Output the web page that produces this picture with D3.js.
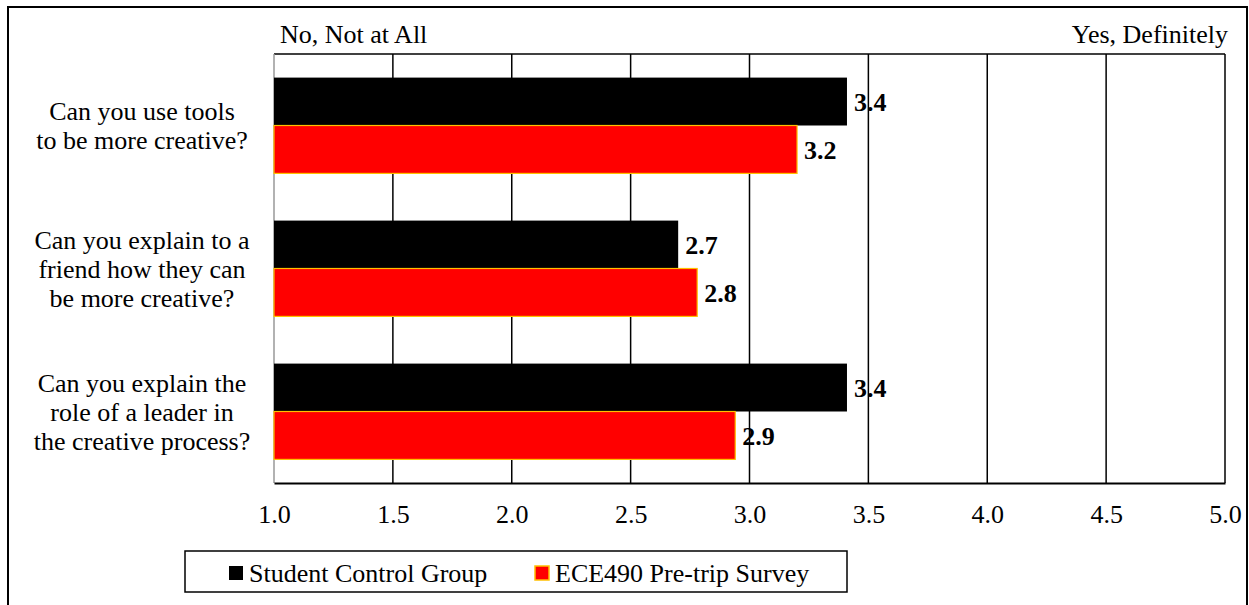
<!DOCTYPE html>
<html>
<head>
<meta charset="utf-8">
<script src="https://cdn.jsdelivr.net/npm/d3@7"></script>
<style>
  html, body { margin: 0; padding: 0; background: #fff; }
  svg { display: block; }
  text { font-family: "Liberation Serif", "Times New Roman", serif; fill: #000; }
</style>
</head>
<body>
<svg id="chart" width="1249" height="605"></svg>
<script>
// Survey questions (top to bottom)
const questions = [
  ["Can you use tools", "to be more creative?"],
  ["Can you explain to a", "friend how they can", "be more creative?"],
  ["Can you explain the", "role of a leader in", "the creative process?"]
];
const questionKeys = ["tools", "explain", "leader"];

// Mean responses per group
const controlGroup = [3.41, 2.70, 3.41];
const preTripSurvey = [3.20, 2.78, 2.94];

const seriesNames = ["Student Control Group", "ECE490 Pre-trip Survey"];
const xTicks = [1.0, 1.5, 2.0, 2.5, 3.0, 3.5, 4.0, 4.5, 5.0];
const scaleEnds = ["No, Not at All", "Yes, Definitely"];

const FS = 26;
const svg = d3.select("#chart");
const plot = { left: 274, right: 1225, top: 54, bottom: 483 };

// outer frame
svg.append("rect")
  .attr("x", 8).attr("y", 7).attr("width", 1239).attr("height", 610)
  .attr("fill", "none").attr("stroke", "#000").attr("stroke-width", 2);

const x = d3.scaleLinear().domain([1, 5]).range([plot.left, plot.right]);
const y = d3.scaleBand().domain(questionKeys).range([plot.top, plot.bottom]).paddingInner(0.33).paddingOuter(0.165);
const ySub = d3.scaleBand().domain([0, 1]).range([0, y.bandwidth()]);

// vertical gridlines
svg.append("g").selectAll("line")
  .data(xTicks.slice(1))
  .join("line")
  .attr("x1", d => x(d)).attr("x2", d => x(d))
  .attr("y1", plot.top).attr("y2", plot.bottom)
  .attr("stroke", "#000").attr("stroke-width", 1.5);

// top border of the plot area
svg.append("line")
  .attr("x1", plot.left).attr("x2", plot.right)
  .attr("y1", plot.top).attr("y2", plot.top)
  .attr("stroke", "#000").attr("stroke-width", 1.5);

// left axis line
svg.append("line")
  .attr("x1", plot.left).attr("x2", plot.left)
  .attr("y1", plot.top).attr("y2", plot.bottom)
  .attr("stroke", "#999").attr("stroke-width", 1.5);

// bars
const rows = questionKeys.map((k, i) => ({ key: k, vals: [controlGroup[i], preTripSurvey[i]] }));
const fills = ["#000000", "#FF0000"];
const strokes = ["none", "#FFC000"];

const groups = svg.append("g").selectAll("g")
  .data(rows).join("g")
  .attr("transform", d => `translate(0,${y(d.key)})`);

groups.selectAll("rect")
  .data(d => d.vals.map((v, j) => ({ v, j })))
  .join("rect")
  .attr("x", x(1))
  .attr("y", d => ySub(d.j))
  .attr("width", d => x(d.v) - x(1))
  .attr("height", ySub.bandwidth())
  .attr("fill", d => fills[d.j])
  .attr("stroke", d => strokes[d.j])
  .attr("stroke-width", 1.2);

groups.selectAll("text.val")
  .data(d => d.vals.map((v, j) => ({ v, j })))
  .join("text")
  .attr("class", "val")
  .attr("x", d => x(d.v) + 7)
  .attr("y", d => ySub(d.j) + ySub.bandwidth() / 2)
  .attr("dy", "0.35em")
  .attr("font-size", FS)
  .attr("font-weight", "bold")
  .text(d => d.v.toFixed(1));

// bottom axis
const xAxis = d3.axisBottom(x).tickValues(xTicks).tickSize(0).tickPadding(22).tickFormat(d3.format(".1f"));
const gx = svg.append("g").attr("transform", `translate(0,${plot.bottom})`).call(xAxis);
gx.select(".domain").attr("stroke", "#000").attr("stroke-width", 2);
gx.selectAll("text").attr("font-size", FS).attr("font-family", null).attr("fill", "#000");

// category labels
const catG = svg.append("g");
rows.forEach((r, i) => {
  const lines = questions[i];
  const cy = y(r.key) + y.bandwidth() / 2;
  const lh = 29;
  const t = catG.append("text")
    .attr("text-anchor", "middle")
    .attr("font-size", FS);
  lines.forEach((ln, k) => {
    t.append("tspan")
      .attr("x", 142)
      .attr("y", cy + (k - (lines.length - 1) / 2) * lh)
      .attr("dy", "0.35em")
      .text(ln);
  });
});

// scale end labels
svg.append("text").attr("x", 280).attr("y", 43).attr("font-size", FS).text(scaleEnds[0]);
svg.append("text").attr("x", 1228).attr("y", 43).attr("font-size", FS).attr("text-anchor", "end").text(scaleEnds[1]);

// legend
const lg = svg.append("g");
lg.append("rect").attr("x", 185).attr("y", 551).attr("width", 662).attr("height", 41)
  .attr("fill", "#fff").attr("stroke", "#000").attr("stroke-width", 1.5);
const legendX = [229, 535];
seriesNames.forEach((name, j) => {
  lg.append("rect").attr("x", legendX[j]).attr("y", 566).attr("width", 14).attr("height", 14)
    .attr("fill", fills[j]).attr("stroke", strokes[j]).attr("stroke-width", 1.5);
  lg.append("text").attr("x", legendX[j] + 20).attr("y", 573).attr("dy", "0.35em")
    .attr("font-size", FS).text(name);
});
</script>
</body>
</html>
